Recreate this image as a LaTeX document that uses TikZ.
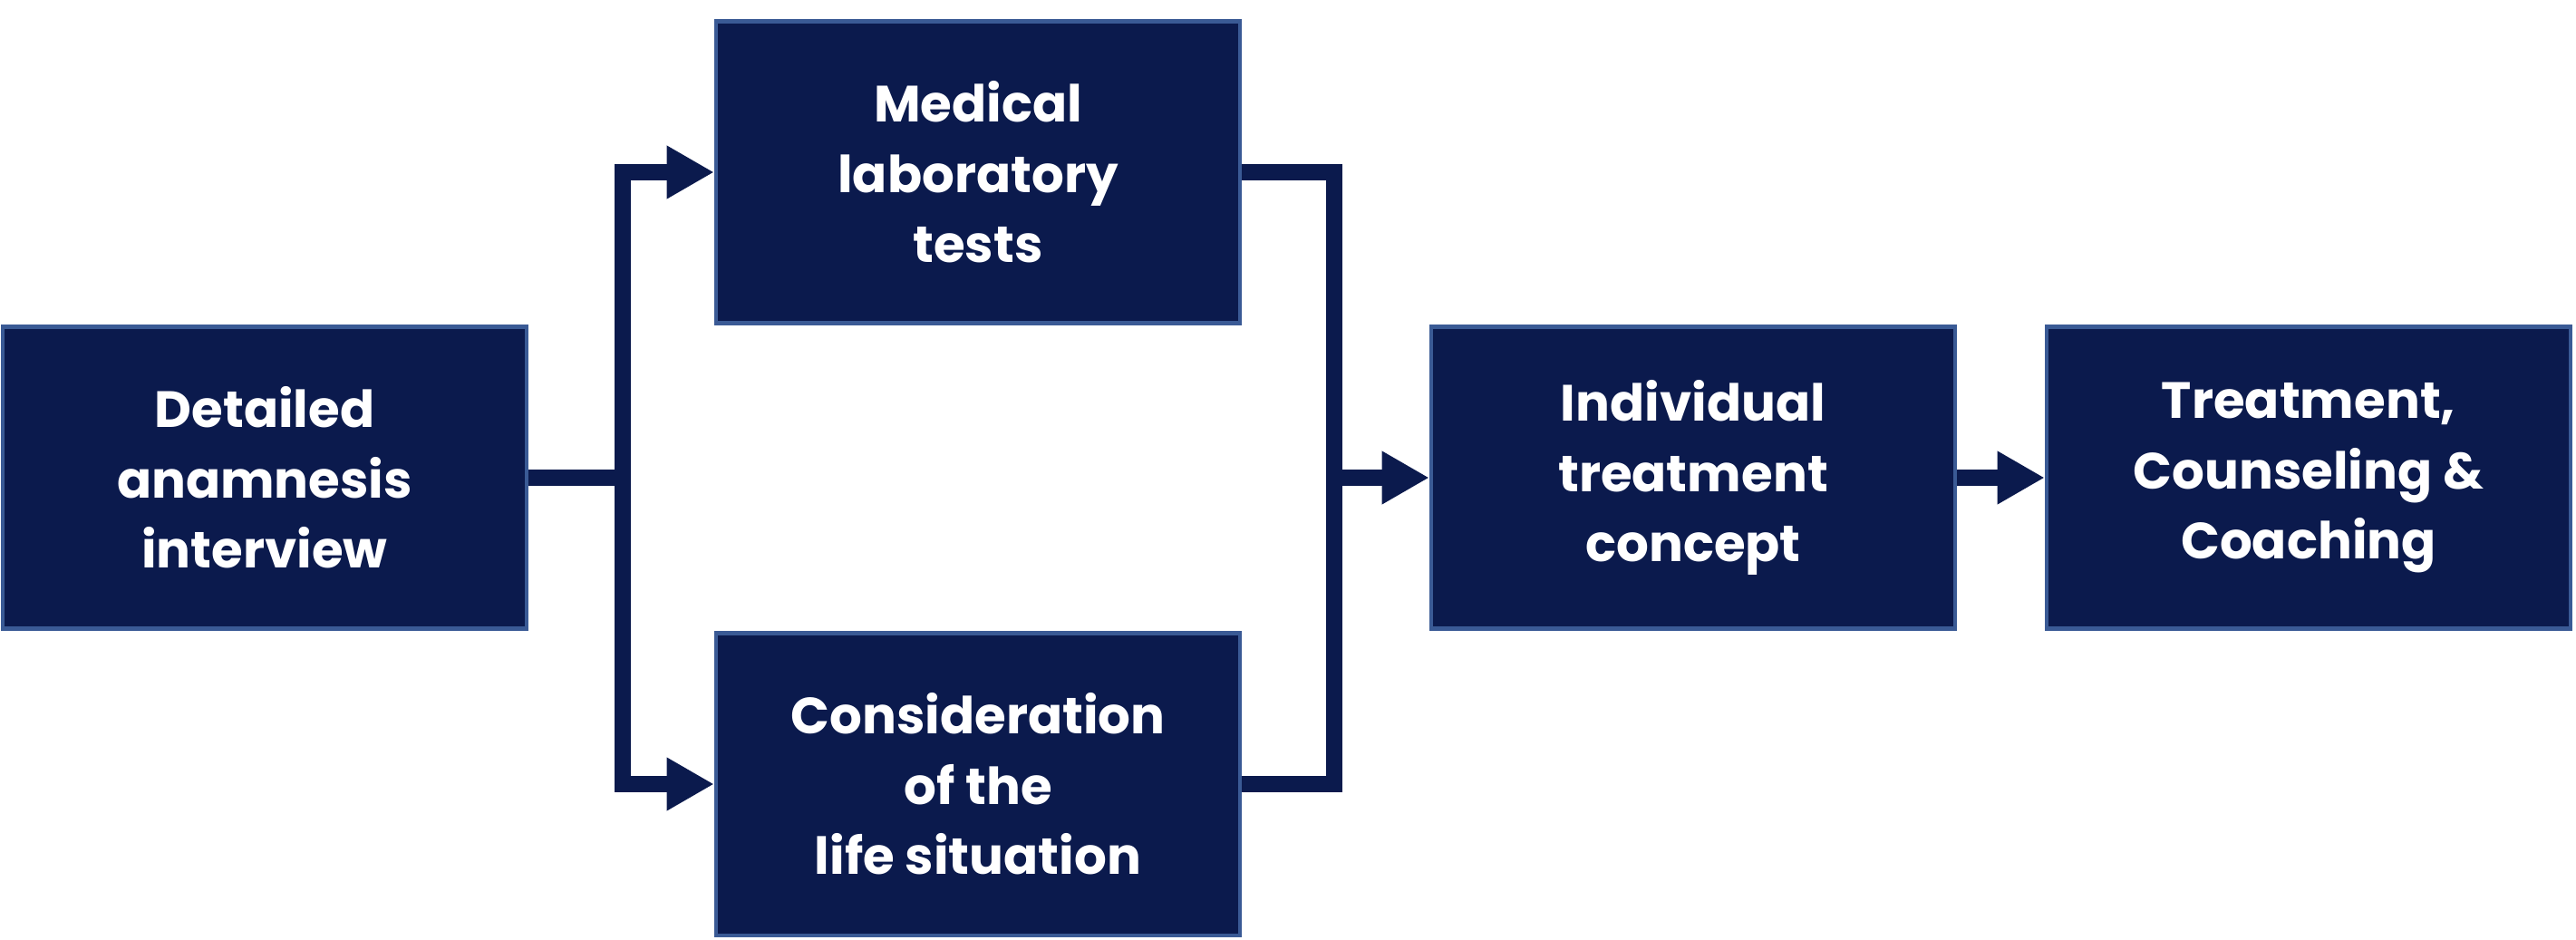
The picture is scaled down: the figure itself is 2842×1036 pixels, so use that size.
\documentclass[tikz,border=0pt]{standalone}
\usepackage{fontspec}
\setmainfont{Poppins}
\usetikzlibrary{arrows.meta}
\definecolor{navy}{HTML}{0B1A4D}
\definecolor{edgeblue}{HTML}{3A5A95}
\tikzset{
  stage/.style={draw=edgeblue, line width=1.2pt, fill=navy, text=white,
    minimum width=5.78cm, minimum height=3.33cm, align=center,
    font=\fontsize{16}{22}\selectfont\bfseries},
  flow/.style={draw=navy, line width=0.18cm},
  flowarrow/.style={flow, -{Triangle[length=0.52cm,width=0.55cm]}}
}
\begin{document}
\begin{tikzpicture}[x=0.01cm,y=-0.01cm]
    \useasboundingbox (0,0) rectangle (2842,1036);
    % Boxes
    \node[stage] (anam) at (292,527) {Detailed\\anamnesis\\interview};
    \node[stage] (lab) at (1079,190) {Medical\\laboratory\\tests};
    \node[stage] (life) at (1079,865) {Consideration\\of the\\life situation};
    \node[stage] (concept) at (1868,527) {Individual\\treatment\\concept};
    \node[stage] (coach) at (2547,527) {Treatment,\\Counseling \&\\Coaching};
    % Split
    \coordinate (split) at (687,527);
    \draw[flow] (anam.east) -- (split);
    \draw[flowarrow] (687,190) -- (lab.west);
    \draw[flowarrow] (687,865) -- (life.west);
    \draw[flow] (687,181) -- (687,874);
    % Merge
    \coordinate (merge) at (1472,527);
    \draw[flow] (lab.east) -| (1472,527);
    \draw[flow] (life.east) -| (1472,527);
    \draw[flowarrow] (1465,527) -- (concept.west);
    % Last step
    \draw[flowarrow] (concept.east) -- (coach.west);
\end{tikzpicture}
\end{document}
